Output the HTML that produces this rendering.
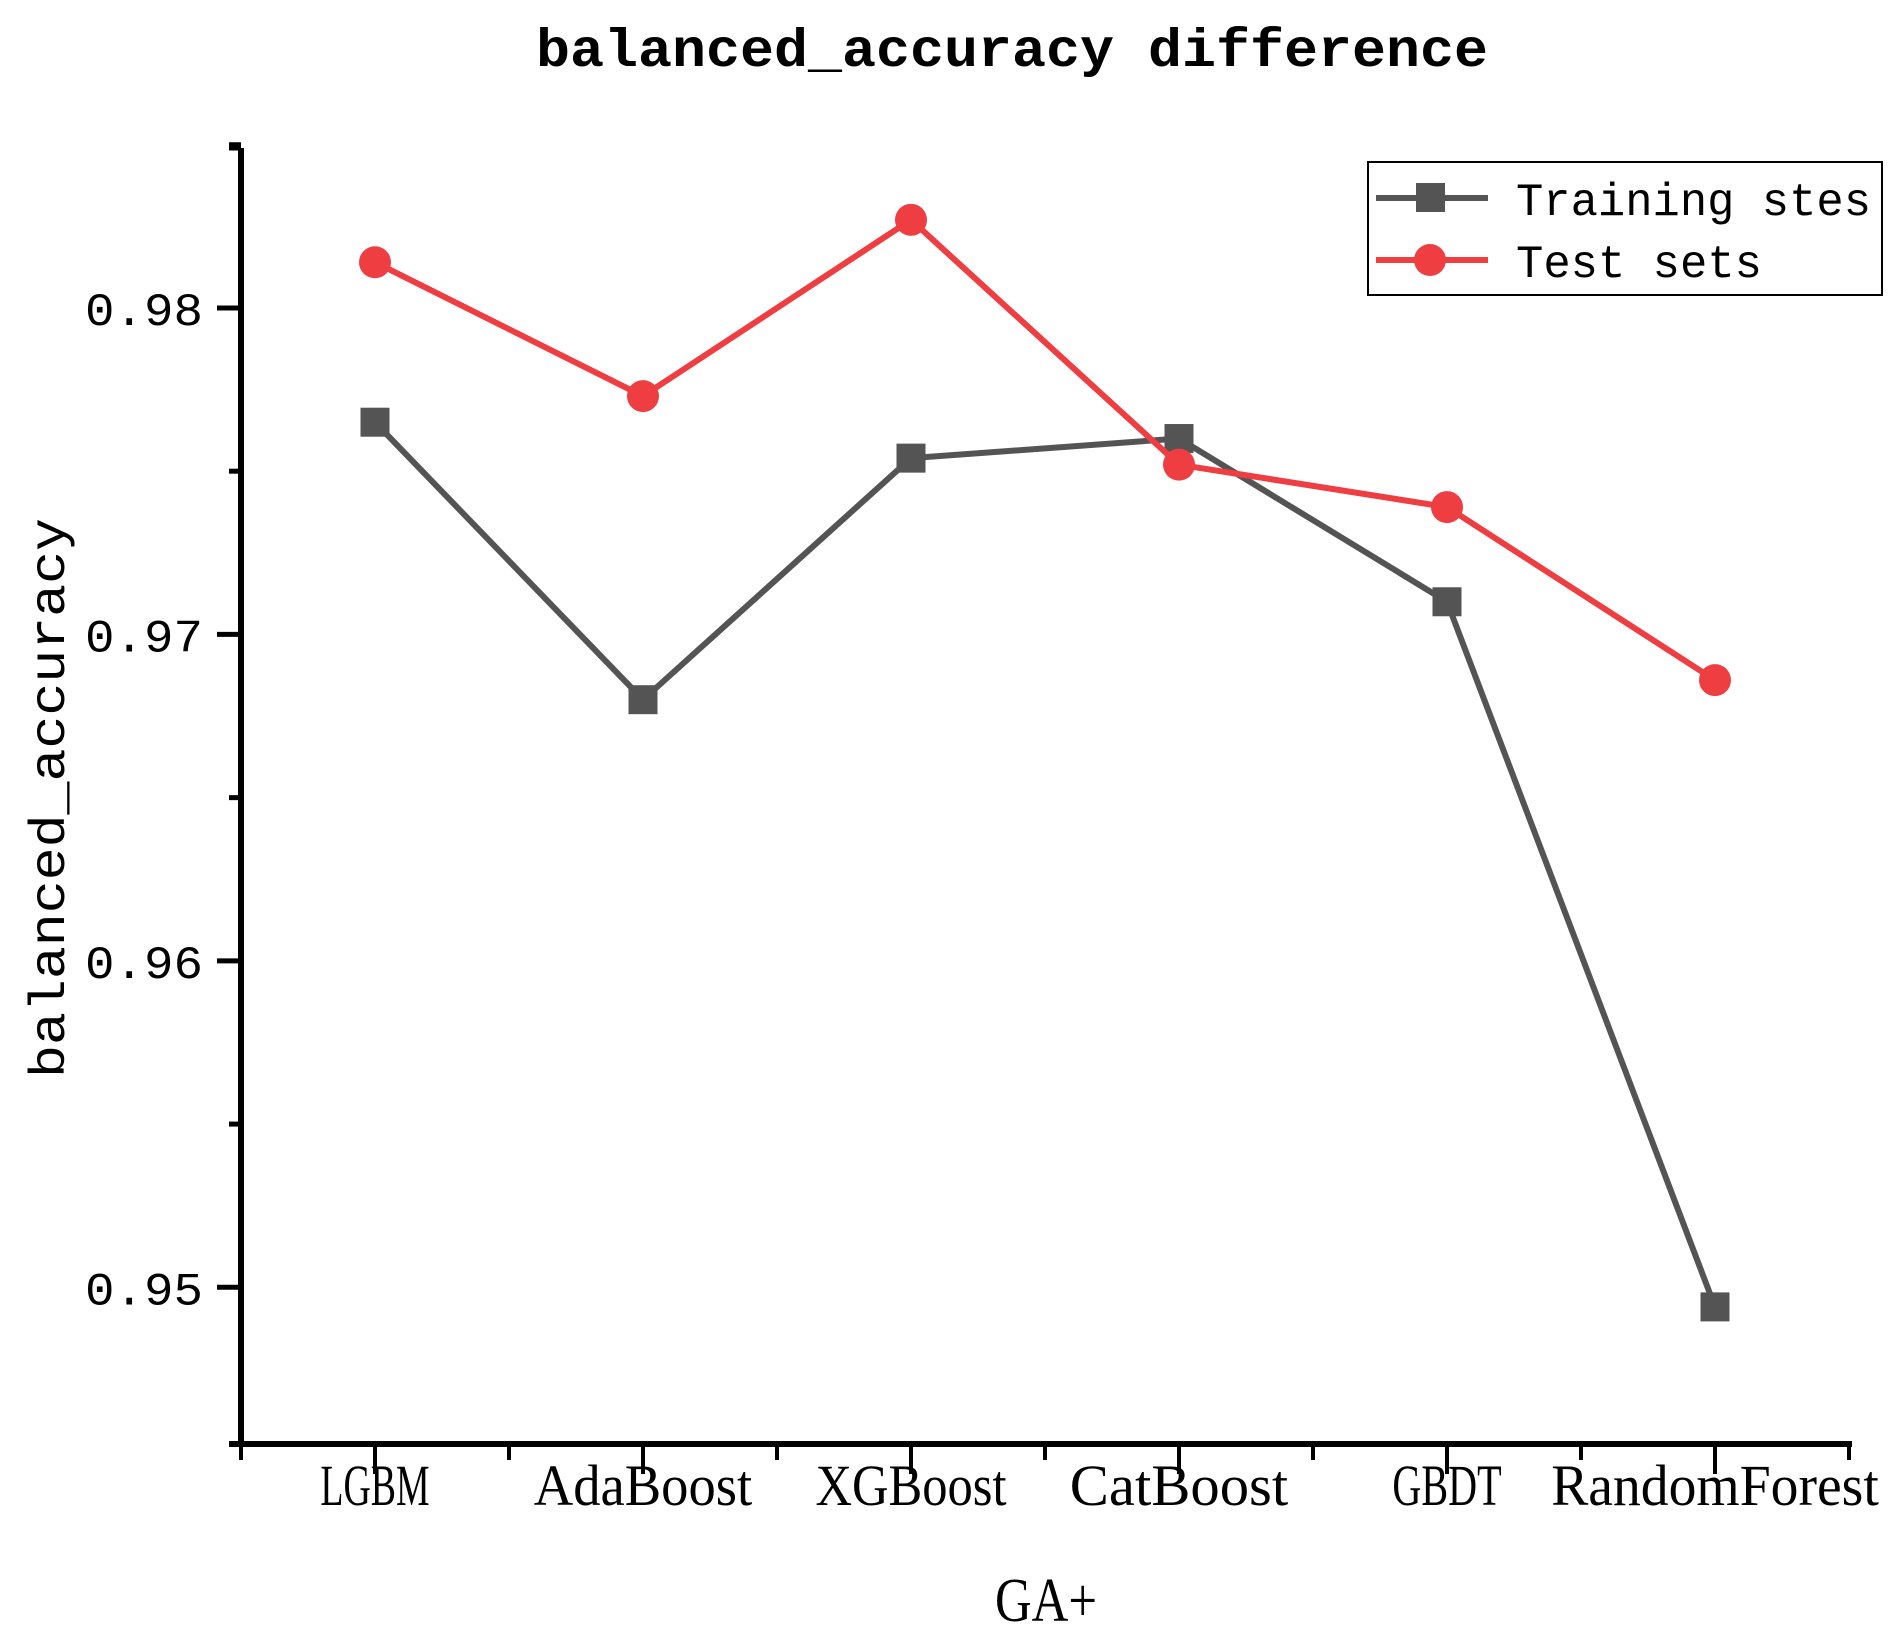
<!DOCTYPE html>
<html><head><meta charset="utf-8"><style>
html,body{margin:0;padding:0;background:#fff;}
svg{display:block;}
text{font-family:"Liberation Mono","Noto Serif CJK SC",monospace;fill:#000;}
</style></head><body>
<svg id="chart" width="1890" height="1644" viewBox="0 0 1890 1644" xmlns="http://www.w3.org/2000/svg">
<text x="1012" y="66" text-anchor="middle" font-size="54" font-weight="bold" textLength="952" lengthAdjust="spacingAndGlyphs">balanced_accuracy difference</text>
<text transform="translate(64,798) rotate(-90)" text-anchor="middle" font-size="50" textLength="560" lengthAdjust="spacingAndGlyphs">balanced_accuracy</text>
<text x="1046" y="1621" text-anchor="middle" font-size="62" font-family="Liberation Serif" textLength="102" lengthAdjust="spacingAndGlyphs" style="font-family:'Liberation Serif',serif">GA+</text>
<g id="axes"></g>
<g id="series"></g>
<g>
<rect x="1368" y="162" width="514" height="133" fill="#fff" stroke="#000" stroke-width="2"/>
<line x1="1376" y1="198" x2="1488" y2="198" stroke="#545454" stroke-width="6"/>
<rect x="1416" y="183" width="29" height="29" fill="#545454"/>
<text x="1516" y="215" font-size="46" textLength="355" lengthAdjust="spacingAndGlyphs">Training stes</text>
<line x1="1376" y1="260" x2="1488" y2="260" stroke="#ef3e42" stroke-width="6"/>
<circle cx="1430" cy="260" r="16" fill="#ef3e42"/>
<text x="1516" y="277" font-size="46" textLength="246" lengthAdjust="spacingAndGlyphs">Test sets</text>
</g>
</svg>
<script>
const categories = ["LGBM","AdaBoost","XGBoost","CatBoost","GBDT","RandomForest"];
const trainingValues = [0.9765,0.9680,0.9754,0.9760,0.9710,0.9494];
const testValues = [0.9814,0.9773,0.9827,0.9752,0.9739,0.9686];
const yTickValues = [0.95,0.96,0.97,0.98];
const yTickLabels = ["0.95","0.96","0.97","0.98"];
const yMin = 0.9452, yMax = 0.9849;
const plotL = 241, plotR = 1849, plotT = 148, plotB = 1444;
const NS = "http://www.w3.org/2000/svg";
function xPos(i){ return plotL + (plotR-plotL)/categories.length*(i+0.5); }
function yPos(v){ return plotB - (v-yMin)/(yMax-yMin)*(plotB-plotT); }
function mk(tag, attrs, parent){ const e=document.createElementNS(NS,tag); for(const k in attrs) e.setAttribute(k,attrs[k]); parent.appendChild(e); return e; }
const axes=document.getElementById('axes'), series=document.getElementById('series');
let e;
e=mk('line',{x1:plotL,y1:plotT,x2:plotL,y2:plotB+3,stroke:'#000','stroke-width':6},axes);


e=mk('line',{x1:plotL-12,y1:plotB,x2:plotR+3,y2:plotB,stroke:'#000','stroke-width':6},axes);


// y ticks major + minor
for(let k=0;k<yTickValues.length;k++){
  const y=yPos(yTickValues[k]);
  e=mk('line',{x1:plotL-24,y1:y,x2:plotL,y2:y,stroke:'#000','stroke-width':5},axes);
  
  
  const t=mk('text',{x:plotL-38,y:y+17,'text-anchor':'end','font-size':46,textLength:118,lengthAdjust:'spacingAndGlyphs'},axes);
  t.textContent=yTickLabels[k];
  
  
}
[0.945,0.955,0.965,0.975,0.985].forEach(v=>{ if(v<yMin||v>yMax+0.0001)return; const y=yPos(v);
  e=mk('line',{x1:plotL-12,y1:y,x2:plotL,y2:y,stroke:'#000','stroke-width':5},axes);
  
  
});
e=mk('line',{x1:plotL-12,y1:plotT,x2:plotL,y2:plotT,stroke:'#000','stroke-width':5},axes);


const step=(plotR-plotL)/categories.length;
for(let i=0;i<=categories.length;i++){
  const x=plotL+step*i;
  e=mk('line',{x1:x,y1:plotB,x2:x,y2:plotB+16,stroke:'#000','stroke-width':4},axes);
  
  
}
categories.forEach((c,i)=>{
  const x=xPos(i);
  e=mk('line',{x1:x,y1:plotB,x2:x,y2:plotB+30,stroke:'#000','stroke-width':4},axes);
  
  
  const t=mk('text',{x:x,y:1505,'text-anchor':'middle','font-size':58,textLength:c.length*27.3,lengthAdjust:'spacingAndGlyphs',style:"font-family:'Liberation Serif',serif"},axes);
  t.textContent=c;
  
  
});
function drawSeries(vals,color,shape,name){
  const pts=vals.map((v,i)=>xPos(i)+','+yPos(v)).join(' ');
  const pl=mk('polyline',{points:pts,fill:'none',stroke:color,'stroke-width':6,'stroke-linejoin':'round'},series);
  
  
  vals.forEach((v,i)=>{
    let m;
    if(shape==='square') m=mk('rect',{x:xPos(i)-14.5,y:yPos(v)-14.5,width:29,height:29,fill:color},series);
    else m=mk('circle',{cx:xPos(i),cy:yPos(v),r:16,fill:color},series);
    
    
  });
}
drawSeries(trainingValues,'#545454','square','training');
drawSeries(testValues,'#ef3e42','circle','test');
</script>
</body></html>
